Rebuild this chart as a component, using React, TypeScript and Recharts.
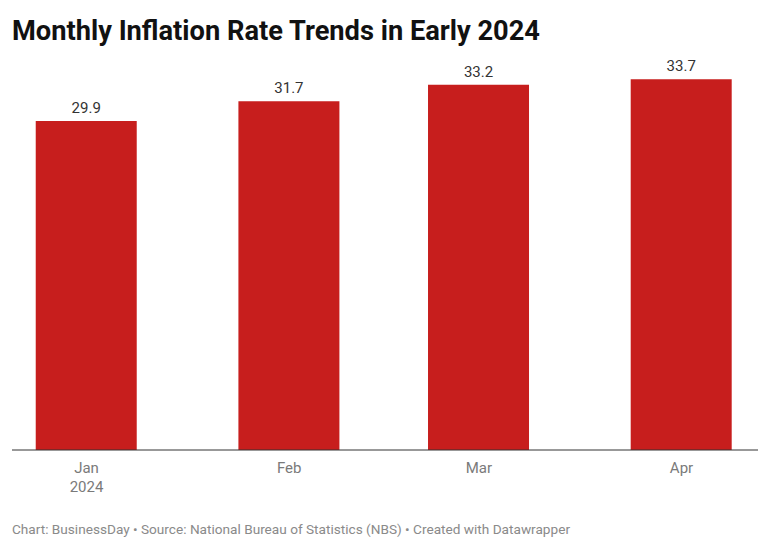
import React from "react";
import { BarChart, Bar, XAxis, YAxis, LabelList } from "recharts";

const months = ["Jan", "Feb", "Mar", "Apr"];
const monthDates = ["2024-01-01", "2024-02-01", "2024-03-01", "2024-04-01"];
const inflation = [29.9, 31.7, 33.2, 33.7];
const yearLabels = ["2024", "", "", ""];

const DAY = 86400000;
const start = Date.parse(monthDates[0]);
const data = months.map((m, i) => ({
  month: m,
  year: yearLabels[i],
  day: Math.round((Date.parse(monthDates[i]) - start) / DAY),
  value: inflation[i],
}));
const dayTicks = data.map((d) => d.day);

const TickLabel = (props: any) => {
  const { x, y, payload } = props;
  const d = data.find((r) => r.day === payload.value);
  if (!d) return null;
  return (
    <g>
      <text x={x} y={y + 15} textAnchor="middle" fill="#7a7a7a" fontSize={15} fontFamily="Roboto">
        {d.month}
      </text>
      {d.year ? (
        <text x={x} y={y + 34} textAnchor="middle" fill="#7a7a7a" fontSize={15} fontFamily="Roboto">
          {d.year}
        </text>
      ) : null}
    </g>
  );
};

export default function App() {
  return (
    <div style={{ position: "absolute", left: 0, top: 0, width: 768, height: 551, background: "#fff" }}>
      <BarChart
        width={768}
        height={551}
        data={data}
        margin={{ top: 10, right: 10, left: 12, bottom: 41 }}
      >
        <XAxis
          dataKey="day"
          type="number"
          domain={[-11.4, 102.7]}
          ticks={dayTicks}
          tick={<TickLabel />}
          tickLine={false}
          axisLine={{ stroke: "#333333", strokeWidth: 1 }}
          height={60}
          allowDataOverflow
        />
        <YAxis hide domain={[0, 40]} />
        <Bar dataKey="value" fill="#c71e1d" barSize={101} isAnimationActive={false}>
          <LabelList
            dataKey="value"
            position="top"
            offset={8}
            fill="#333333"
            fontSize={15}
            fontFamily="Roboto"
            formatter={(v: any) => Number(v).toFixed(1)}
          />
        </Bar>
      </BarChart>
      <svg width={768} height={551} style={{ position: "absolute", left: 0, top: 0, pointerEvents: "none" }}>
        <text x={12} y={40} fontFamily="Roboto" fontWeight={700} fontSize={27} fill="#111111" textLength={528} lengthAdjust="spacingAndGlyphs">
          Monthly Inflation Rate Trends in Early 2024
        </text>
        <text x={12} y={534} fontFamily="Roboto" fontSize={13} fill="#8a8a8a" textLength={558} lengthAdjust="spacingAndGlyphs">
          Chart: BusinessDay • Source: National Bureau of Statistics (NBS) • Created with Datawrapper
        </text>
      </svg>
    </div>
  );
}
